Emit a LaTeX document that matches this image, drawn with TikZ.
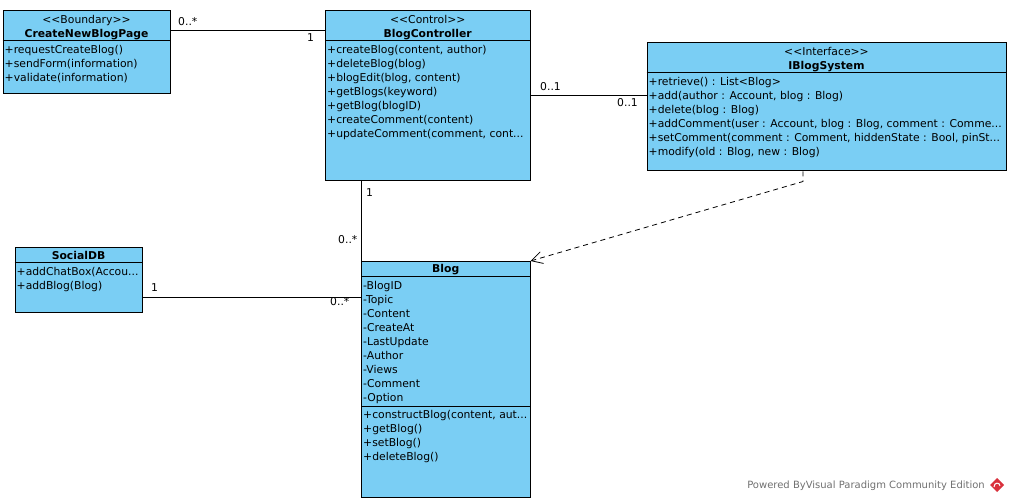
\documentclass[tikz,border=0pt]{standalone}
\usepackage{fontspec}
\setmainfont{DejaVu Sans}
\usetikzlibrary{arrows.meta}
\definecolor{umlblue}{HTML}{7ACEF4}
\definecolor{vpred}{HTML}{D9313C}
\definecolor{footgray}{HTML}{707070}
\newcommand{\umlfont}{\fontsize{10.8}{14}\selectfont}

\begin{document}
\begin{tikzpicture}[x=1pt, y=-1pt,
    cls/.style={draw, line width=1pt, fill=umlblue, anchor=north west, inner sep=0pt},
    stereo/.style={anchor=base, inner sep=0pt, font=\umlfont},
    cname/.style={anchor=base, inner sep=0pt, font=\umlfont\bfseries},
    ops/.style={anchor=north west, inner sep=0pt, align=left, font=\umlfont},
    mult/.style={anchor=base west, inner sep=0pt, font=\umlfont},
    sep/.style={line width=1pt},
    assoc/.style={line width=1pt},
    realize/.style={line width=0.8pt, dash pattern=on 5pt off 4pt, -{Straight Barb[length=11pt,width=12pt]}}]
    \useasboundingbox (0,0) rectangle (1009,502);

    % Classes
    \node [cls, minimum width=167pt, minimum height=83pt] (page) at (2.5,10.5) {};
    \node [stereo] (pagest) at ([yshift=-13pt]page.north) {<{}<Boundary>{}>};
    \node [cname] (pagenm) at ([yshift=-27pt]page.north) {CreateNewBlogPage};
    \draw [sep] ([yshift=-30.5pt]page.north west) -- ([yshift=-30.5pt]page.north east);
    \node [ops] (pageops) at ([xshift=2pt,yshift=-35pt]page.north west) {+requestCreateBlog()\\+sendForm(information)\\+validate(information)};

    \node [cls, minimum width=204.5pt, minimum height=170pt] (ctrl) at (325,10.5) {};
    \node [stereo] (ctrlst) at ([yshift=-13pt]ctrl.north) {<{}<Control>{}>};
    \node [cname] (ctrlnm) at ([yshift=-27pt]ctrl.north) {BlogController};
    \draw [sep] ([yshift=-30.5pt]ctrl.north west) -- ([yshift=-30.5pt]ctrl.north east);
    \node [ops] (ctrlops) at ([xshift=2pt,yshift=-35pt]ctrl.north west) {+createBlog(content, author)\\+deleteBlog(blog)\\+blogEdit(blog, content)\\+getBlogs(keyword)\\+getBlog(blogID)\\+createComment(content)\\+updateComment(comment, cont...};

    \node [cls, minimum width=359pt, minimum height=128pt] (iface) at (646.5,42.5) {};
    \node [stereo] (ifacest) at ([yshift=-13pt]iface.north) {<{}<Interface>{}>};
    \node [cname] (ifacenm) at ([yshift=-27pt]iface.north) {IBlogSystem};
    \draw [sep] ([yshift=-30pt]iface.north west) -- ([yshift=-30pt]iface.north east);
    \node [ops] (ifaceops) at ([xshift=2pt,yshift=-34.5pt]iface.north west) {+retrieve() : List<{}Blog>{}\\+add(author : Account, blog : Blog)\\+delete(blog : Blog)\\+addComment(user : Account, blog : Blog, comment : Comme...\\+setComment(comment : Comment, hiddenState : Bool, pinSt...\\+modify(old : Blog, new : Blog)};

    \node [cls, minimum width=127pt, minimum height=65pt] (social) at (14.5,247.5) {};
    \node [cname] (socialnm) at ([yshift=-12pt]social.north) {SocialDB};
    \draw [sep] ([yshift=-15pt]social.north west) -- ([yshift=-15pt]social.north east);
    \node [ops] (socialops) at ([xshift=2pt,yshift=-19.5pt]social.north west) {+addChatBox(Accou...\\+addBlog(Blog)};

    \node [cls, minimum width=168.5pt, minimum height=236pt] (blog) at (361,261) {};
    \node [cname] (blognm) at ([yshift=-12pt]blog.north) {Blog};
    \draw [sep] ([yshift=-15.5pt]blog.north west) -- ([yshift=-15.5pt]blog.north east);
    \node [ops] (blogattr) at ([xshift=2pt,yshift=-20.5pt]blog.north west) {-BlogID\\-Topic\\-Content\\-CreateAt\\-LastUpdate\\-Author\\-Views\\-Comment\\-Option};
    \draw [sep] ([yshift=-145pt]blog.north west) -- ([yshift=-145pt]blog.north east);
    \node [ops] (blogops) at ([xshift=2pt,yshift=-149.5pt]blog.north west) {+constructBlog(content, aut...\\+getBlog()\\+setBlog()\\+deleteBlog()};

    % Associations
    \draw [assoc] ([yshift=-20pt]page.north east) -- ([yshift=-20pt]ctrl.north west);
    \draw [assoc] ([yshift=-85.5pt]ctrl.north east) -- ([yshift=-53.5pt]iface.north west);
    \draw [assoc] ([xshift=36pt]ctrl.south west) -- (blog.north west);
    \draw [assoc] ([yshift=-50pt]social.north east) -- ([yshift=-36.5pt]blog.north west);
    \draw [realize] ([xshift=156.5pt]iface.south west) -- ++(0,10) -- (blog.north east);

    % Multiplicities
    \node [mult] (m1) at (178,26) {0..*};
    \node [mult] (m2) at (307,42) {1};
    \node [mult] (m3) at (540,91) {0..1};
    \node [mult] (m4) at (617,107) {0..1};
    \node [mult] (m5) at (366,197) {1};
    \node [mult] (m6) at (338,244) {0..*};
    \node [mult] (m7) at (151,292) {1};
    \node [mult] (m8) at (330,306) {0..*};

    % Footer
    \node [anchor=base east, inner sep=0pt, font=\fontsize{10}{12}\selectfont, text=footgray] (credit) at (985,488.5) {Powered ByVisual Paradigm Community Edition};
    \fill [vpred] (997,478) -- (1004,485) -- (997,492) -- (990,485) -- cycle;
    \draw [white, line width=1pt] (994,487) .. controls (994,482) and (1000,482) .. (1000,486);
\end{tikzpicture}
\end{document}
